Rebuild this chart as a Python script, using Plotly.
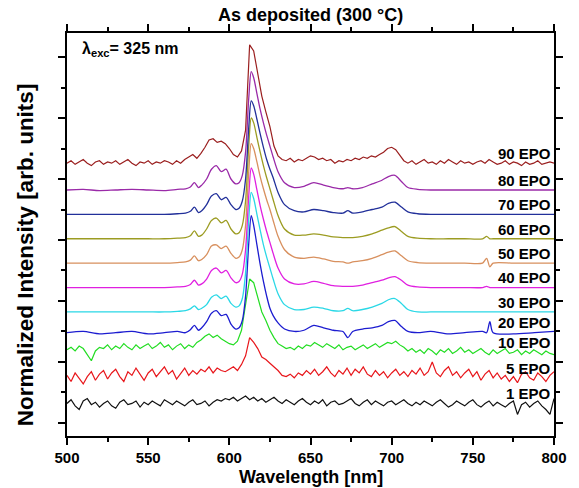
import numpy as np
import plotly.graph_objects as go

# ---------------- data ----------------
labels = ["1 EPO", "5 EPO", "10 EPO", "20 EPO", "30 EPO", "40 EPO",
          "50 EPO", "60 EPO", "70 EPO", "80 EPO", "90 EPO"]
offsets = [16, 37, 58, 74, 91, 111, 131, 151, 171, 191, 213]
colors = ["#111111", "#e8161b", "#22dd22", "#1c1cd0", "#2ad8e6", "#e020e0",
          "#d8905e", "#9c9c22", "#22309a", "#9a2aa8", "#9a1e1e"]
x_ticks = [500, 550, 600, 650, 700, 750, 800]

# fine wavelength sampling (noisy spectra), 2.5 nm step
wl_fine = np.linspace(500, 800, 121)
# sparse wavelength sampling (smooth spectra)
wl_sparse = [500, 510, 520, 530, 540, 550, 560, 568, 573, 576,
             578.5, 581, 583, 586, 589, 592, 595, 598, 601, 604,
             606, 608, 610, 612, 613.5, 615, 617, 619, 621, 623,
             625, 627, 630, 634, 640, 646, 652, 658, 664, 670,
             673, 676, 682, 688, 694, 698, 702, 706, 710, 716,
             724, 735, 745, 756, 758.5, 760.5, 762.5, 775, 788, 800]

i_1epo = [0, 3, -2, -5, 2, 4, -1, 1, -3, 0,
          2, -2, -4, 1, 3, -1, 0, 2, -3, 1,
          -1, 2, 0, -2, 3, 1, -1, 2, 0, -2,
          1, 3, -1, 0, 2, -2, 1, 3, 2, 4,
          3, 5, 2, 4, 6, 3, 5, 2, 4, 1,
          3, 5, 2, 0, 3, 1, -1, 2, 4, 1,
          -1, 2, 0, 3, -2, 1, 2, -1, 0, 2,
          4, 0, -2, 1, 3, -1, 2, 0, -2, 1,
          2, -1, 1, 3, 0, -2, 1, -1, 2, 0,
          -2, 1, 3, 0, -3, -1, 2, 0, -2, 1,
          3, -1, -3, 0, 2, -2, 1, -1, -3, 0,
          2, -9, -1, 1, -3, 0, 2, -2, -5, -9,
          4]
i_5epo = [2, -3, 4, -1, -5, 1, 5, -2, 3, 6,
          -1, 4, 7, 1, -3, 5, 2, 8, 3, -2,
          4, 7, 1, 5, 9, 3, 6, -1, 4, 8,
          2, 6, 3, 7, 5, 9, 4, 8, 6, 5,
          7, 9, 6, 11, 18, 33, 29, 24, 17, 15,
          12, 9, 6, 2, 1, 3, 0, 4, 2, 6,
          3, 7, 2, 5, 9, 4, 1, 6, 3, 8,
          2, 7, 4, 9, 3, 1, 6, 2, 5, 0,
          4, 7, 2, 5, 1, 6, 3, 8, 2, 5,
          13, 4, 1, 6, 9, 2, 5, 0, 4, 7,
          1, 5, -2, 3, 6, 0, 4, -1, 2, -3,
          1, -4, 3, 5, 0, -2, 4, 1, -3, 2,
          5]
i_10epo = [2, 4, 1, 5, 3, -2, -7, 1, 4, 3,
           6, 2, 5, 3, 7, 4, 2, 6, 3, 5,
           7, 3, 5, 8, 4, 6, 2, 5, 7, 3,
           6, 4, 8, 10, 13, 15, 12, 14, 11, 9,
           7, 6, 9, 18, 40, 60, 57, 45, 33, 26,
           18, 12, 7, 5, 3, 4, 2, 5, 3, 6,
           5, 8, 6, 4, 7, 5, 3, 6, 2, 4,
           5, 2, 4, 6, 3, 5, 7, 4, 6, 8,
           7, 9, 6, 4, 1, 3, 0, 2, -1, 3,
           1, -2, 2, 0, 3, -1, 1, 4, 0, 2,
           -1, 1, 3, 0, -2, 2, -1, 1, 3, -1,
           0, 2, -2, 1, -1, 2, 0, -2, 1, -1,
           -2]
i_90epo = [0, 2, -1, 1, 3, 0, -2, 1, 2, -1,
           1, 0, 2, -1, 1, 3, 0, -2, 1, 0,
           2, -1, 1, 0, 2, 1, -1, 2, 0, 3,
           5, 7, 4, 8, 13, 19, 20, 17, 18, 16,
           12, 7, 5, 10, 27, 97, 92, 74, 55, 42,
           30, 14, 6, 3, 2, 4, 1, 3, 2, 4,
           6, 5, 3, 4, 2, 3, 0, 2, 1, 3,
           2, 4, 3, 5, 4, 6, 5, 7, 9, 12,
           13, 11, 6, 2, 0, 2, -1, 1, 3, 0,
           1, -1, 2, 0, 3, 1, -1, 2, 0, 1,
           -1, 1, 2, 0, 3, 1, -1, 0, 2, -1,
           1, 0, -2, 1, -1, 0, 2, -1, 0, 1,
           0]

i_20epo = [0, 1, -1, 0, 1, -1, 0, 1, 0, 2.5,
           6, 2, 4, 9, 16, 18, 14, 15, 7, 3,
           4, 10, 30, 74, 96, 88, 72, 56, 42, 30,
           20, 14, 8, 3, 1, 2, 6, 4, 2, 1,
           -4, 1, 3, 4, 6, 9, 10, 5, 1, 0,
           1, -1, 0, 1, 0, 9, 0, -1, 0, 1]
i_30epo = [0, 0, 0, 0, 0, 0, 0, 0.5, 1, 2.5,
           5, 2, 3, 6, 12, 14, 11, 13, 7, 4,
           5, 11, 32, 77, 98, 93, 80, 67, 55, 45,
           36, 27, 15, 6, 2, 2, 4, 3, 1, 1,
           3, 1, 2, 4, 7, 10, 11, 7, 2, 0,
           0, 0, 0, 0, 0, 0, 0, 0, 0, 0]
i_40epo = [0, 0, 0, 0, 0, 0, 0, 0.5, 1, 2.5,
           6, 2, 3, 7, 14, 16, 12, 14, 8, 4,
           5, 11, 31, 76, 98, 93, 80, 67, 56, 46,
           37, 28, 16, 7, 3, 3, 5, 3.5, 1.5, 1,
           1, 1, 2, 4, 6, 8, 9, 6, 2, 0.5,
           0, 0, 0, 0, 1, 0, 0, 0, 0, 0]
i_50epo = [0, 0, 0, 0, 0, 0, 0, 0.5, 1, 2.5,
           6, 2, 3, 7, 14, 15, 12, 14, 8, 4,
           5, 11, 31, 76, 98, 94, 83, 71, 61, 52,
           44, 35, 22, 11, 5, 4, 5, 3.5, 1.5, 1,
           0, 1, 2, 4, 7, 9, 10, 6, 2, 0.5,
           0, 0, 0, 0, 4, -3, 0, 0, 0, 0]
i_60epo = [0, 0, 0, 0, 0, 0, 0, 0.5, 1, 2.5,
           6.5, 2, 3, 8, 15, 17, 13, 15, 8, 4,
           5, 11, 31, 77, 99, 95, 83, 71, 60, 50,
           41, 32, 19, 8, 3, 3, 4, 3, 1.5, 1,
           1, 1, 2, 4, 7, 9, 10, 6, 2, 0.5,
           0, 0, 0, 0, 2, 0, 0, 0, 0, 0]
i_70epo = [0, 0, 0, 0, 0, 0, 0, 0.5, 1, 2.5,
           6, 1.5, 3, 8, 15, 17, 12, 14, 8, 4,
           5, 11, 29, 72, 93, 89, 78, 66, 55, 45,
           37, 30, 18, 8, 3, 2, 4, 3, 1.5, 1,
           3, 1, 2, 4, 6, 9, 10, 6, 2, 0.5,
           0, 0, 0, 0, 0, 0, 0, 0, 0, 0]
i_80epo = [0, 0.5, -0.5, 0, 0.5, 0, -0.5, 0.5, 1, 2.5,
           6, 2, 4, 9, 17, 20, 15, 17, 9, 5,
           6, 12, 31, 76, 97, 92, 79, 66, 55, 45,
           36, 27, 15, 6, 2, 3, 6, 4, 2, 1,
           2, 1, 2, 5, 8, 11, 12, 7, 2, 0.5,
           0, 0, 0, 0, 0, 0, 0, 0, 0, 0]

fine_series = {"1 EPO": i_1epo, "5 EPO": i_5epo, "10 EPO": i_10epo, "90 EPO": i_90epo}
sparse_series = {"20 EPO": i_20epo, "30 EPO": i_30epo, "40 EPO": i_40epo,
                 "50 EPO": i_50epo, "60 EPO": i_60epo, "70 EPO": i_70epo,
                 "80 EPO": i_80epo}
for k, v in fine_series.items():
    assert len(v) == len(wl_fine), (k, len(v))
for k, v in sparse_series.items():
    assert len(v) == len(wl_sparse), (k, len(v))

FONT = "Liberation Sans, Arial, sans-serif"
XR = [500, 800]
YR = [-10.7, 319.7]

fig = go.Figure()
for lab, off, col in zip(labels, offsets, colors):
    if lab in fine_series:
        x = wl_fine
        y = np.array(fine_series[lab], dtype=float) + off
        line = dict(color=col, width=1.2)
    else:
        x = wl_sparse
        y = np.array(sparse_series[lab], dtype=float) + off
        line = dict(color=col, width=1.3, shape="spline", smoothing=0.8)
    fig.add_trace(go.Scatter(x=x, y=y, mode="lines", line=line, name=lab,
                             showlegend=False, hoverinfo="skip"))
    fig.add_annotation(x=1, xref="paper", y=off + 8, yref="y",
                       text="<b>" + lab + "</b>",
                       showarrow=False, xanchor="right", yanchor="middle",
                       xshift=-1,
                       font=dict(family=FONT, size=15, color="black"))

# dummy trace so the mirrored (top/right) tick axes are drawn
fig.add_trace(go.Scatter(x=[None], y=[None], xaxis="x2", yaxis="y2",
                         showlegend=False, hoverinfo="skip"))

minor_ticks_x = dict(dtick=25, tick0=500, ticklen=4, ticks="outside",
                     tickwidth=1.5, tickcolor="black")
minor_ticks_y = dict(dtick=25, tick0=0, ticklen=4, ticks="outside",
                     tickwidth=1.5, tickcolor="black")
common = dict(showgrid=False, zeroline=False, showline=True,
              linecolor="black", linewidth=1.5,
              ticks="outside", ticklen=7, tickwidth=1.5, tickcolor="black")

fig.update_layout(
    xaxis=dict(range=XR, tickmode="array", tickvals=x_ticks,
               ticktext=["<b>%d</b>" % v for v in x_ticks],
               tickfont=dict(family=FONT, size=15, color="black"),
               minor=minor_ticks_x, mirror=True, **common),
    yaxis=dict(range=YR, tick0=0, dtick=50, showticklabels=False,
               minor=minor_ticks_y, mirror=True, **common),
    xaxis2=dict(range=XR, overlaying="x", side="top", anchor="y",
                tick0=500, dtick=50, showticklabels=False,
                minor=minor_ticks_x, **common),
    yaxis2=dict(range=YR, overlaying="y", side="right", anchor="x",
                tick0=0, dtick=50, showticklabels=False,
                minor=minor_ticks_y, **common),
)

# titles
fig.add_annotation(x=0.5, xref="paper", y=1.045, yref="paper",
                   text="<b>As deposited (300 °C)</b>", showarrow=False,
                   xanchor="center", yanchor="middle",
                   font=dict(family=FONT, size=18, color="black"))
fig.add_annotation(x=0.5, xref="paper", y=-0.102, yref="paper",
                   text="<b>Wavelength [nm]</b>", showarrow=False,
                   xanchor="center", yanchor="middle",
                   font=dict(family=FONT, size=18, color="black"))
fig.add_annotation(x=-0.086, xref="paper", y=0.449, yref="paper",
                   text="<b>Normalized Intensity [arb. units]</b>", showarrow=False,
                   textangle=-90, xanchor="center", yanchor="middle",
                   font=dict(family=FONT, size=22.5, color="black"))
fig.add_annotation(x=0.026, xref="paper", y=0.958, yref="paper",
                   text="<b>λ<sub>exc</sub>= 325 nm</b>", showarrow=False,
                   xanchor="left", yanchor="middle",
                   font=dict(family=FONT, size=16, color="black"))

fig.update_layout(width=579, height=488,
                  margin=dict(l=67, r=23, t=33, b=52),
                  paper_bgcolor="white", plot_bgcolor="white",
                  showlegend=False)

fig.write_html("out.html")
